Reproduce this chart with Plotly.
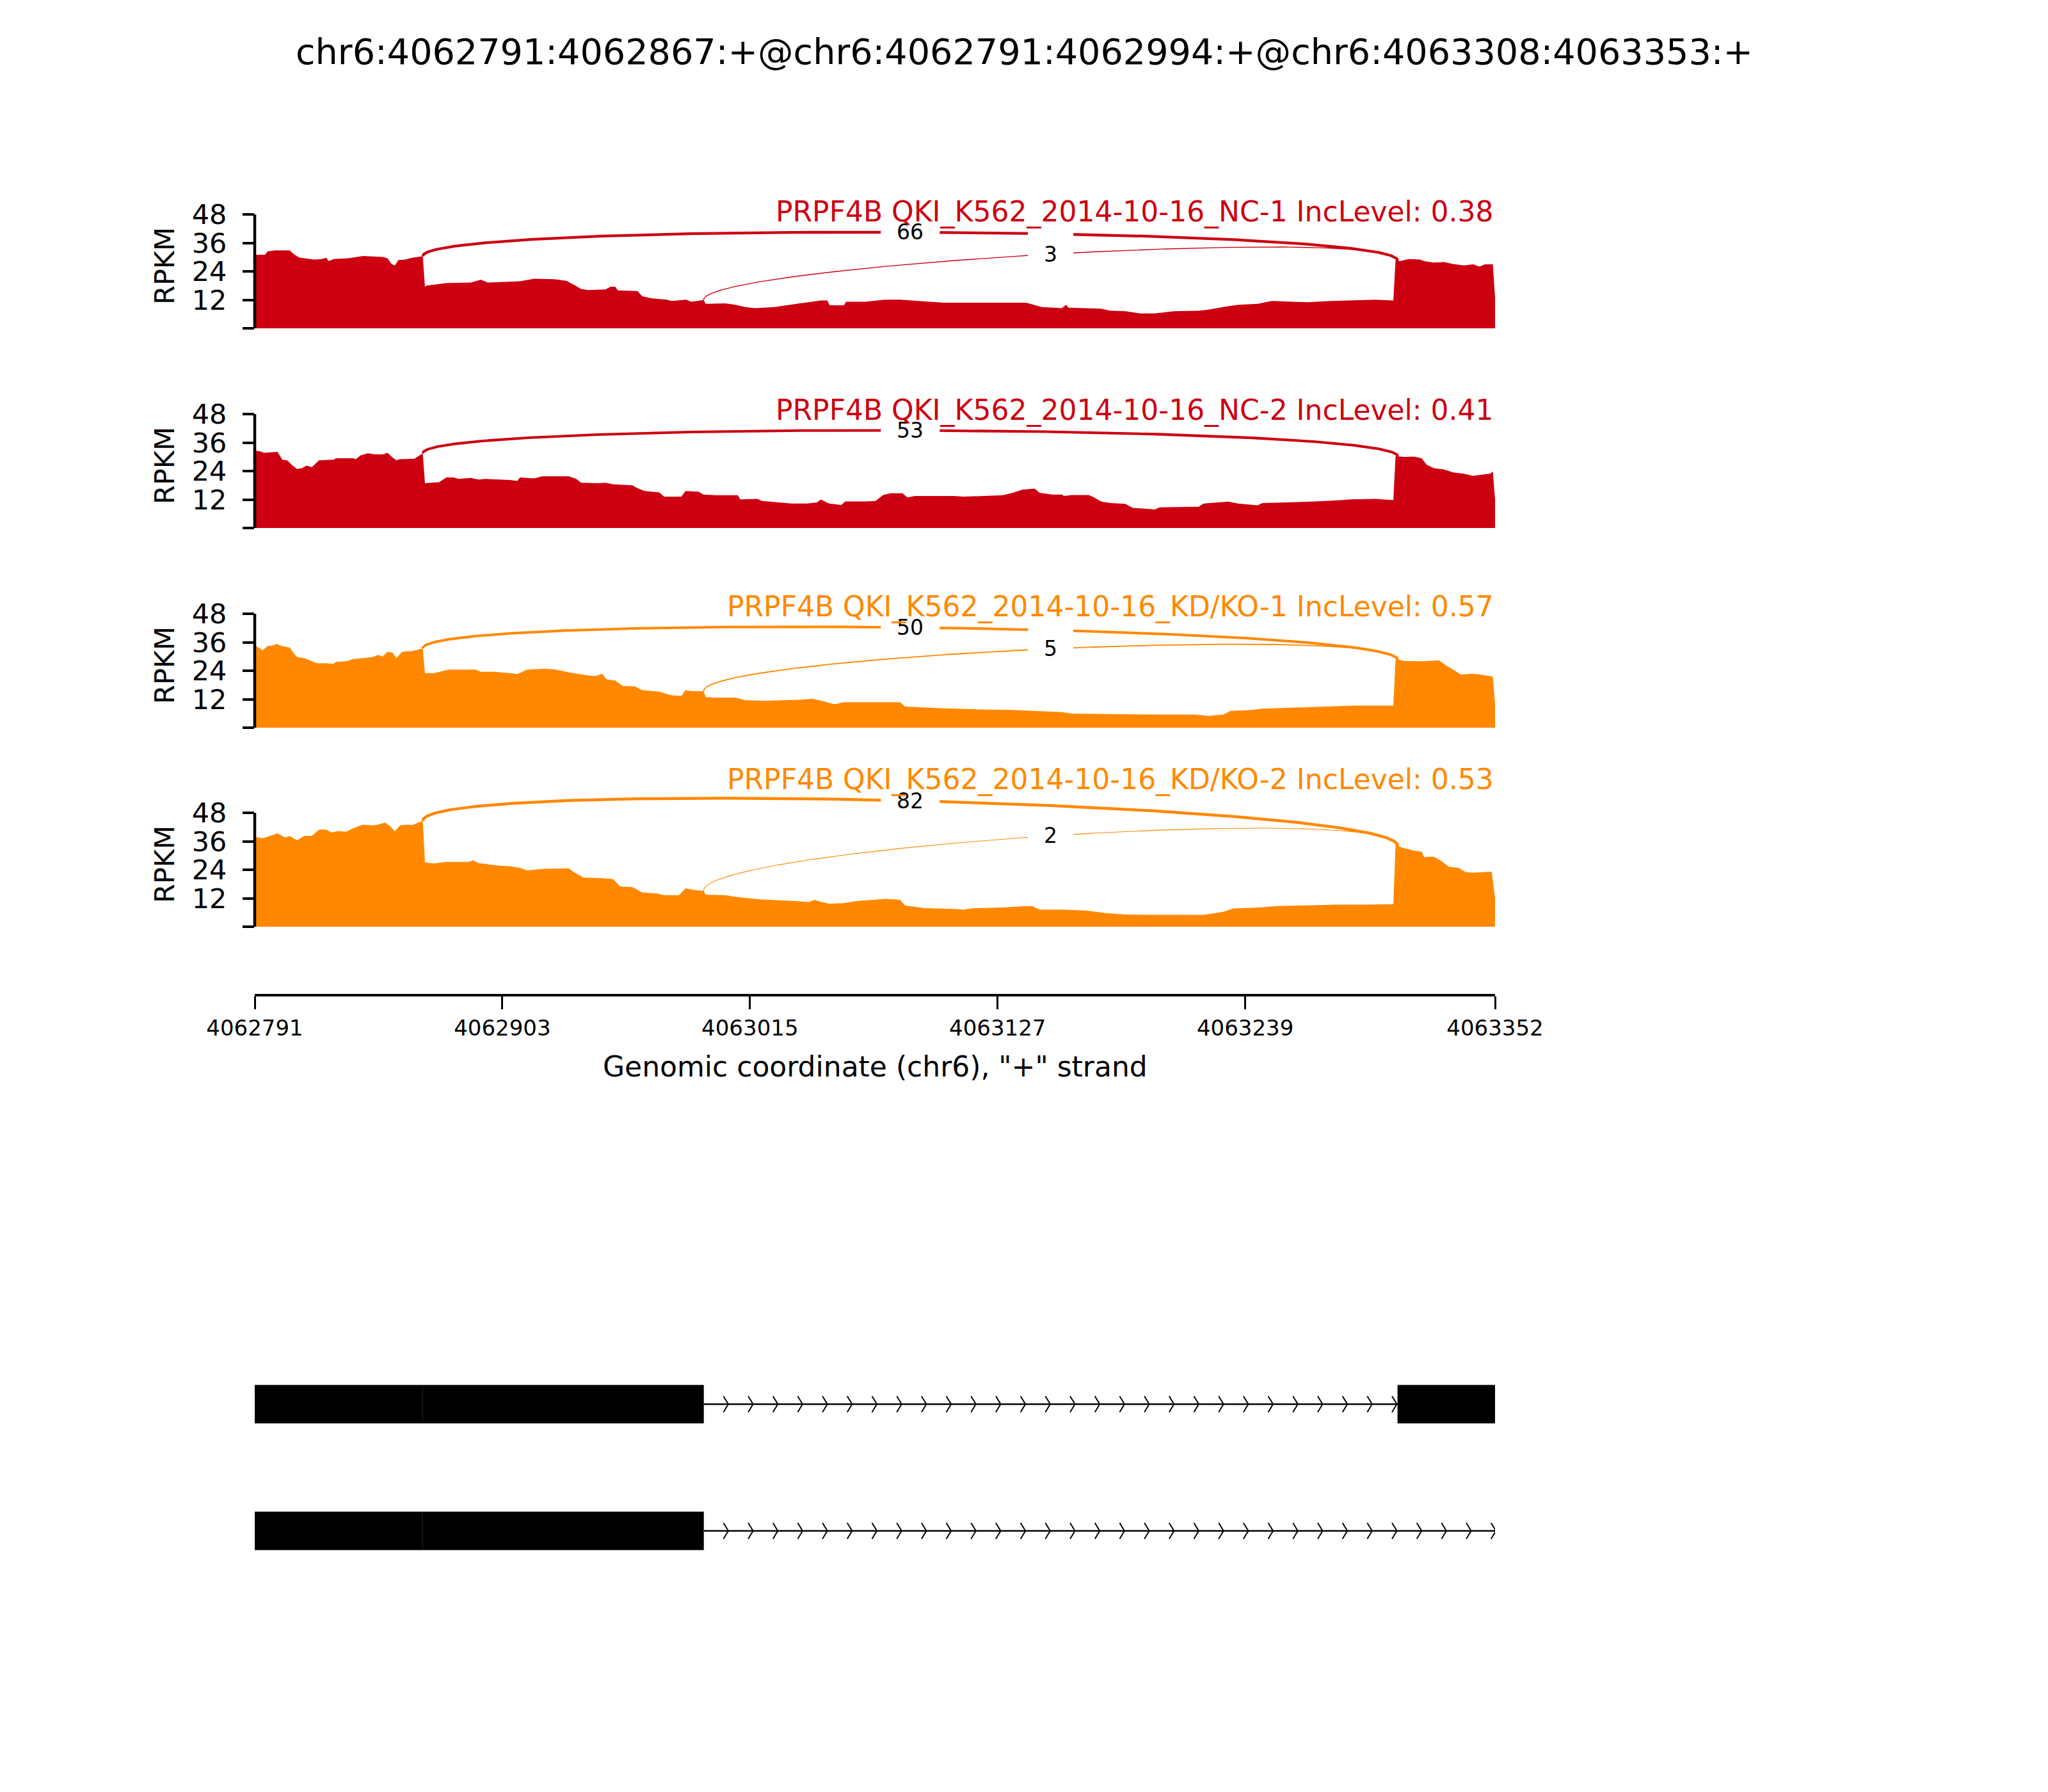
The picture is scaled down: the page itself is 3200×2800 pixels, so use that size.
import numpy as np
import plotly.graph_objects as go

W, H = 3200, 2800
X0 = 4062791
X_END = 4063352

main_title = "chr6:4062791:4062867:+@chr6:4062791:4062994:+@chr6:4063308:4063353:+"
sample_labels = [
    "PRPF4B QKI_K562_2014-10-16_NC-1 IncLevel: 0.38",
    "PRPF4B QKI_K562_2014-10-16_NC-2 IncLevel: 0.41",
    "PRPF4B QKI_K562_2014-10-16_KD/KO-1 IncLevel: 0.57",
    "PRPF4B QKI_K562_2014-10-16_KD/KO-2 IncLevel: 0.53",
]
sample_colors = ["#CC0011", "#CC0011", "#FF8800", "#FF8800"]

# coverage (bp offset from 4062791, RPKM)
cov_nc1 = [(0, 31.0), (4.7, 31.0), (5.8, 32.4), (9.2, 32.8), (15.8, 32.8), (18, 31.0), (20.2, 29.8), (26.9, 29.0),
           (30.2, 29.2), (32.4, 29.7), (33.5, 28.3), (35.7, 29.2), (42.4, 29.5), (44.6, 29.8), (49, 30.5), (53.5, 30.3),
           (57.9, 30.1), (60.1, 29.5), (61.9, 27.1), (63.4, 26.5), (65, 28.8), (67.8, 28.9), (71.2, 29.7), (76, 30.4),
           (77, 17.5), (77.8, 18.0), (86.7, 19.1), (97.8, 19.3), (102.2, 20.5), (105.5, 19.3), (119.9, 19.8),
           (126.5, 20.9), (135.4, 20.7), (140.9, 20.0), (144.3, 18.4), (147.6, 16.6), (150.9, 16.1), (158.7, 16.4),
           (160.9, 17.5), (163.1, 17.5), (164.2, 16.0), (173.1, 15.7), (175.3, 13.5), (179.7, 12.6), (186.4, 12.1),
           (188.6, 11.5), (195.2, 12.1), (197.4, 11.2), (203, 11.9), (204, 10.3), (212.9, 10.5), (217.4, 9.9),
           (221.8, 9.0), (226.2, 8.5), (235.1, 9.0), (245, 10.3), (253, 11.2), (256, 11.7), (259, 11.7), (260, 9.7),
           (266.5, 9.7), (267.5, 11.2), (276, 11.2), (285, 12.1), (292, 12.1), (298.6, 11.7), (311.8, 10.8),
           (349, 10.8), (356, 9.0), (365, 8.5), (367, 9.9), (368, 8.7), (382.7, 8.3), (387, 7.4), (393.8, 7.2),
           (400.5, 6.3), (407, 6.3), (416, 7.2), (427, 7.4), (431.5, 7.9), (438, 9.0), (444.7, 9.9), (453.6, 10.3),
           (460, 11.5), (467, 11.2), (476, 11.0), (487, 11.5), (498, 11.9), (506.8, 12.1), (515, 11.7), (516, 28.8),
           (518, 28.3), (522, 29.2), (527, 29.0), (529, 28.3), (533, 27.7), (538, 27.9), (542, 27.1), (547, 26.5),
           (551, 27.0), (554, 26.0), (556.5, 27.0), (560, 27.0), (561, 13.0)]
cov_nc2 = [(0, 32.6), (2.5, 32.3), (4.3, 31.7), (6.9, 31.9), (10.3, 32.1), (12.5, 28.8), (14.7, 28.5), (16.9, 26.5),
           (19.1, 24.9), (21.3, 25.2), (23.5, 26.3), (25.8, 25.6), (29.1, 28.5), (35.7, 28.8), (36.8, 29.4),
           (44.6, 29.4), (45.7, 29.0), (47.9, 30.6), (51.2, 31.5), (54.6, 31.0), (57.9, 31.0), (60.1, 31.7),
           (62.3, 29.7), (64.1, 28.5), (65.6, 29.0), (72.3, 29.2), (76, 31.5), (77, 18.9), (83.4, 19.3), (86.7, 21.3),
           (90, 21.3), (92.2, 20.7), (97.8, 21.1), (101.1, 20.4), (104.4, 20.7), (115.5, 20.2), (118.8, 19.8),
           (119.9, 21.3), (126.5, 20.9), (129.9, 21.8), (142.1, 21.8), (145.4, 20.7), (147.6, 19.1), (155.3, 18.9),
           (158.7, 19.1), (162, 18.4), (170.8, 18.0), (173.1, 16.8), (176.4, 15.6), (183, 15.0), (185.2, 13.2),
           (193, 13.2), (194.8, 15.6), (200.7, 15.3), (203, 14.1), (208.5, 13.8), (218.5, 13.8), (219.6, 12.1),
           (227.3, 12.3), (229.5, 11.4), (236.5, 10.8), (242.8, 10.3), (249.8, 10.3), (254.3, 10.8), (256, 12.0),
           (259.8, 10.3), (265.3, 9.7), (267.1, 11.2), (276.4, 11.2), (280.8, 11.4), (284.2, 13.9), (287.5, 14.6),
           (293, 14.6), (295.2, 12.9), (298.6, 13.5), (316.3, 13.5), (320.7, 13.2), (338.4, 13.8), (342.9, 14.8),
           (347.3, 16.2), (352.8, 16.6), (355, 14.8), (360.6, 14.1), (365, 14.1), (366.1, 13.5), (369.4, 13.9),
           (377.2, 13.9), (379.4, 13.0), (382.7, 11.2), (387.1, 10.5), (393.8, 10.2), (397.1, 8.5), (407.1, 7.8),
           (409.3, 8.7), (427, 9.0), (429.2, 10.3), (440.3, 11.1), (444.7, 10.3), (453.6, 9.6), (455.8, 10.5),
           (466.9, 10.8), (478, 11.1), (491.3, 11.7), (495.7, 12.1), (506.8, 12.3), (515, 11.7), (516, 30.3),
           (520.1, 29.9), (524.5, 30.1), (527.8, 29.4), (530, 26.7), (533.3, 25.2), (537.8, 24.7), (542.2, 23.4),
           (546.6, 22.9), (551, 22.0), (555.5, 22.5), (558.8, 22.9), (560, 23.8), (561, 12.0)]
cov_kd1 = [(0, 34.7), (3.6, 32.6), (5.8, 34.4), (8.7, 34.7), (9.8, 35.3), (12.5, 34.3), (15.8, 33.8), (17.6, 31.4),
           (19.1, 29.8), (22.4, 29.3), (28, 27.2), (31.3, 27.2), (35.7, 26.9), (36.8, 27.8), (41.3, 28.0),
           (44.6, 28.9), (49, 29.3), (53.5, 29.8), (55.7, 30.7), (57.9, 30.0), (60.1, 32.0), (62.3, 31.6),
           (64.1, 29.3), (66.7, 32.0), (71.2, 32.3), (76, 33.4), (77, 23.0), (81.1, 23.0), (87.8, 24.5), (97.8, 24.4),
           (100, 24.5), (102.2, 23.5), (107.7, 23.6), (115.5, 23.0), (118.8, 22.6), (123.2, 24.5), (131, 24.8),
           (135.4, 24.6), (142.1, 23.3), (149.8, 22.1), (154.2, 21.8), (157.1, 22.7), (159.3, 20.3), (163.1, 19.9),
           (166.4, 17.6), (172, 17.4), (175.3, 15.8), (183, 15.2), (188.6, 13.6), (193, 13.4), (194.8, 15.8),
           (198.5, 15.4), (203, 15.4), (204, 12.9), (208.5, 12.7), (217.4, 12.7), (221.8, 11.6), (230.6, 11.3),
           (247.6, 11.8), (252, 12.2), (256.5, 11.3), (261.7, 10.0), (263.1, 10.0), (266.1, 10.7), (276.4, 10.7),
           (291.9, 10.7), (294.1, 8.9), (309.6, 8.2), (327.3, 7.7), (342.9, 7.5), (351.7, 7.1), (365, 6.6),
           (369.4, 5.9), (387.1, 5.7), (409.3, 5.5), (424.8, 5.5), (431.5, 5.0), (438.1, 5.5), (441.4, 7.1),
           (451.4, 7.5), (455.8, 8.0), (475.7, 8.6), (497.9, 9.3), (515, 9.3), (516, 28.7), (520.1, 28.1),
           (528.9, 28.0), (535.6, 28.4), (538.9, 26.2), (542.2, 24.4), (545.5, 22.4), (551, 22.7), (554.4, 22.4),
           (558.8, 21.7), (560, 21.5), (561, 10.0)]
cov_kd2 = [(0, 37.9), (3.6, 37.3), (6.9, 38.2), (10.3, 39.4), (13.6, 37.6), (15.8, 38.2), (19.1, 36.4), (22.4, 38.3),
           (25.8, 38.2), (29.1, 40.9), (32.4, 40.9), (34.6, 39.7), (37.9, 40.3), (41.3, 40.0), (44.6, 41.5),
           (49, 43.0), (53.5, 42.7), (55.7, 43.0), (59, 43.9), (61.2, 42.4), (63.4, 40.1), (65.6, 42.7), (69, 43.0),
           (71.2, 42.8), (76, 44.6), (77, 27.1), (81.1, 26.6), (86.7, 27.3), (96.6, 27.3), (98.9, 28.0), (101.1, 26.8),
           (106.6, 26.2), (111, 25.7), (115.5, 25.5), (119.9, 24.8), (123.2, 23.7), (131, 24.4), (142.1, 24.6),
           (144.3, 23.0), (148.7, 20.7), (156.4, 20.5), (162, 20.1), (165.3, 16.9), (170.8, 16.7), (175.3, 14.4),
           (181.9, 14.0), (185.2, 13.3), (191.9, 13.3), (194.8, 16.2), (197.4, 15.8), (200.1, 15.3), (203, 15.1),
           (204, 13.5), (212.9, 13.3), (217.4, 12.6), (228.4, 11.5), (239.5, 11.1), (245.4, 10.8), (250.6, 10.4),
           (253.1, 11.3), (256.5, 10.4), (259.8, 9.7), (266.1, 9.9), (272, 10.8), (285.3, 11.7), (291.9, 11.3),
           (294.1, 9.0), (298.6, 8.4), (303, 7.8), (316.3, 7.5), (320.7, 7.2), (325.1, 7.8), (338.4, 8.1),
           (347.3, 8.6), (351.7, 8.7), (355, 7.2), (365, 7.2), (376.1, 6.8), (384.9, 5.7), (393.8, 5.1), (409.3, 5.0),
           (424.8, 5.1), (429.2, 5.0), (438.1, 6.3), (442.5, 7.7), (453.6, 8.1), (462.5, 8.7), (475.7, 9.0),
           (489, 9.3), (502.3, 9.3), (515, 9.5), (516, 34.5), (518.8, 33.4), (524.5, 32.0), (527.8, 31.6),
           (528.9, 29.3), (533.3, 29.5), (536.7, 27.7), (540, 25.3), (544.4, 24.8), (547.7, 23.0), (551, 22.8),
           (555.5, 23.0), (559.5, 23.2), (561, 12.0)]
coverages = [cov_nc1, cov_nc2, cov_kd1, cov_kd2]

# junctions (left splice site, right splice site, read count)
jxn_nc1 = [(4062867, 4063308, 66), (4062994, 4063308, 3)]
jxn_nc2 = [(4062867, 4063308, 53)]
jxn_kd1 = [(4062867, 4063308, 50), (4062994, 4063308, 5)]
jxn_kd2 = [(4062867, 4063308, 82), (4062994, 4063308, 2)]
junctions = [jxn_nc1, jxn_nc2, jxn_kd1, jxn_kd2]
arc_heights = [14.7, 13.7, 15.0, 18.3]

y_ticks = [0, 12, 24, 36, 48]
y_ticktext = ["", "12", "24", "36", "48"]
x_ticks = [4062791, 4062903, 4063015, 4063127, 4063239, 4063352]

# gene models: exons and introns per isoform row
iso_exons = [
    [(4062791, 4062867), (4062867, 4062994), (4063308, 4063353)],
    [(4062791, 4062867), (4062867, 4062994)],
]
iso_introns = [
    [(4062994, 4063308)],
    [(4062994, 4063353)],
]
arrow_spacing = 11.2

# ---------------- layout constants (pixels) ----------------
XL, XR = 398, 2336
panel_bottom = [513, 825, 1137, 1448]
PX48 = 178.0
YMAX = 60
title_center = [331, 641, 948, 1218]
FONT = "DejaVu Sans"


def pyp(y):
    return 1 - y / H


fig = go.Figure()
layout = dict(width=W, height=H, margin=dict(l=0, r=0, t=0, b=0, autoexpand=False), paper_bgcolor="white",
              plot_bgcolor="white", showlegend=False, font=dict(family=FONT, color="black"))
shapes, annotations = [], []
max_count = max(c for js in junctions for (_, _, c) in js)

for i in range(4):
    n = "" if i == 0 else str(i + 1)
    xa, ya = "x" + n, "y" + n
    B = panel_bottom[i]
    top = B - YMAX * PX48 / 48
    color = sample_colors[i]
    pos = np.array([p for p, _ in coverages[i]], dtype=float) + X0
    val = np.array([v for _, v in coverages[i]], dtype=float)
    fig.add_trace(go.Scatter(x=pos, y=val, mode="lines", fill="tozeroy", fillcolor=color,
                             line=dict(width=0, color=color), hoverinfo="skip", xaxis=xa, yaxis=ya))
    h = arc_heights[i]
    t = np.linspace(0, 1, 300)
    for (ls, rs, c) in junctions[i]:
        y1 = float(np.interp(ls, pos, val))
        y2 = float(np.interp(rs, pos, val))
        P = [(ls, y1), (ls, y1 + h), (rs, y2 + h), (rs, y2)]
        bx = ((1 - t) ** 3) * P[0][0] + 3 * ((1 - t) ** 2) * t * P[1][0] + 3 * (1 - t) * t ** 2 * P[2][0] + t ** 3 * P[3][0]
        by = ((1 - t) ** 3) * P[0][1] + 3 * ((1 - t) ** 2) * t * P[1][1] + 3 * (1 - t) * t ** 2 * P[2][1] + t ** 3 * P[3][1]
        lw = 4.5 * np.log(c + 1) / np.log(max_count + 1)
        fig.add_trace(go.Scatter(x=bx, y=by, mode="lines", line=dict(color=color, width=lw),
                                 hoverinfo="skip", xaxis=xa, yaxis=ya))
        mx = (P[0][0] + 3 * P[1][0] + 3 * P[2][0] + P[3][0]) / 8
        my = (P[0][1] + 3 * P[1][1] + 3 * P[2][1] + P[3][1]) / 8
        label = str(c)
        bw = 21 * len(label) + 50
        # white backdrop behind the junction count (like matplotlib's text background)
        shapes.append(dict(type="rect", xref=xa, yref=ya, xsizemode="pixel", ysizemode="pixel",
                           xanchor=mx, yanchor=my, x0=-bw / 2, x1=bw / 2, y0=-38, y1=38,
                           fillcolor="white", line=dict(width=0), layer="above"))
        annotations.append(dict(x=mx, y=my, xref=xa, yref=ya, text=label, showarrow=False,
                                font=dict(size=33, color="black", family=FONT)))
    layout["xaxis" + n] = dict(domain=[XL / W, XR / W], range=[X0, X_END], visible=False, anchor=ya,
                               automargin=False)
    layout["yaxis" + n] = dict(domain=[pyp(B), pyp(top)], range=[0, YMAX], anchor=xa, automargin=False,
                               tickvals=y_ticks, ticktext=y_ticktext, ticks="outside", ticklen=18,
                               tickwidth=3.5, tickcolor="black", tickfont=dict(size=43, family=FONT),
                               showgrid=False, zeroline=False, showline=False, ticklabelstandoff=16)
    shapes.append(dict(type="line", xref=xa + " domain", yref=ya, x0=0, x1=0, y0=0, y1=48,
                       line=dict(color="black", width=4.5)))
    annotations.append(dict(x=257 / W, y=pyp(B - 97), xref="paper", yref="paper", text="RPKM",
                            xanchor="center", yanchor="middle", textangle=-90, showarrow=False,
                            font=dict(size=43, family=FONT)))

# sample titles drawn last so they sit on top
for i in range(4):
    annotations.append(dict(x=XR / W, y=pyp(title_center[i]), xref="paper", yref="paper",
                            xanchor="right", yanchor="middle", text=sample_labels[i], showarrow=False,
                            font=dict(size=44, color=sample_colors[i], family=FONT)))

# bottom genomic axis
layout["xaxis4"].update(visible=True, anchor="free", position=pyp(1555), showline=True, linewidth=4,
                        linecolor="black", ticks="outside", ticklen=20, tickwidth=2.5, tickcolor="black",
                        tickvals=x_ticks, ticktext=[str(v) for v in x_ticks],
                        tickfont=dict(size=34, family=FONT), showgrid=False, zeroline=False)
annotations.append(dict(x=(XL + XR) / 2 / W, y=pyp(1667), xref="paper", yref="paper", xanchor="center",
                        yanchor="middle", text='Genomic coordinate (chr6), "+" strand', showarrow=False,
                        font=dict(size=44, family=FONT)))
annotations.append(dict(x=0.5, y=pyp(81), xref="paper", yref="paper", xanchor="center", yanchor="middle",
                        text=main_title, showarrow=False, font=dict(size=55.6, family=FONT)))

# gene track
ROW_PX = 198.0
ROW0 = 2194
g_top = ROW0 - 0.6 * ROW_PX
g_bot = ROW0 + 1.6 * ROW_PX
layout["xaxis5"] = dict(domain=[XL / W, XR / W], range=[X0, X_END], visible=False, anchor="y5", automargin=False)
layout["yaxis5"] = dict(domain=[pyp(g_bot), pyp(g_top)], range=[-1.6, 0.6], visible=False, anchor="x5",
                        automargin=False)
chev_x, chev_y = [], []
for r, introns in enumerate(iso_introns):
    yrow = -r
    for (a, b) in introns:
        shapes.append(dict(type="line", xref="x5", yref="y5", x0=a, x1=b, y0=yrow, y1=yrow,
                           line=dict(color="black", width=2.5)))
        k = 1
        while a + k * arrow_spacing <= b:
            tip = a + k * arrow_spacing
            chev_x += [tip - 2.2, tip, tip - 2.2, None]
            chev_y += [yrow + 0.063, yrow, yrow - 0.063, None]
            k += 1
for r, exons in enumerate(iso_exons):
    yrow = -r
    for (a, b) in exons:
        shapes.append(dict(type="rect", xref="x5", yref="y5", x0=a, x1=b, y0=yrow - 0.15, y1=yrow + 0.15,
                           fillcolor="black", line=dict(color="#222222", width=1)))
fig.add_trace(go.Scatter(x=chev_x, y=chev_y, mode="lines", line=dict(color="black", width=2),
                         hoverinfo="skip", xaxis="x5", yaxis="y5"))

layout["shapes"] = shapes
layout["annotations"] = annotations
fig.update_layout(**layout)
fig.write_html("out.html", config={"displayModeBar": False},
               post_script="document.body.style.margin='0px';")
